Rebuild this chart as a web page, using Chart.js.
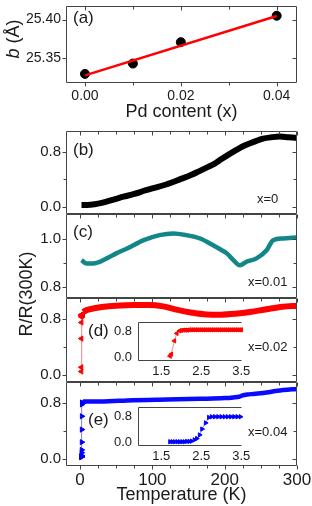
<!DOCTYPE html>
<html>
<head>
<meta charset="utf-8">
<script src="https://cdn.jsdelivr.net/npm/chart.js@4"></script>
<style>
body { margin: 0; background: #fff; }
#fig { position: relative; width: 312px; height: 506px; font-family: 'Liberation Sans', Arial, sans-serif; color: #1a1a1a; }
#fig canvas { position: absolute; left: 0; top: 0; }
.lbl { position: absolute; white-space: nowrap; line-height: 1; transform: translateY(-50%); }
.vlbl { position: absolute; white-space: nowrap; line-height: 1; font-size: 18px; transform: translate(-50%, -50%) rotate(-90deg); }
</style>
</head>
<body>
<div id="fig">
  <canvas id="pa" width="312" height="506"></canvas>
  <canvas id="pb" width="312" height="506"></canvas>
  <canvas id="pc" width="312" height="506"></canvas>
  <canvas id="pd" width="312" height="506"></canvas>
  <canvas id="pe" width="312" height="506"></canvas>
  <canvas id="pdi" width="312" height="506"></canvas>
  <canvas id="pei" width="312" height="506"></canvas>

  <div class="vlbl" style="left:13px; top:39px"><i>b</i> (Å)</div>
  <div class="vlbl" style="left:26px; top:294px">R/R(300K)</div>

  <div class="lbl" style="left:73px; top:17px; font-size:17px">(a)</div>
  <div class="lbl" style="left:73px; top:149px; font-size:17px">(b)</div>
  <div class="lbl" style="left:73px; top:231px; font-size:17px">(c)</div>
  <div class="lbl" style="left:88px; top:330px; font-size:17px">(d)</div>
  <div class="lbl" style="left:88px; top:419px; font-size:17px">(e)</div>

  <div class="lbl" style="left:257px; top:198px; font-size:13px">x=0</div>
  <div class="lbl" style="left:248px; top:281px; font-size:13px">x=0.01</div>
  <div class="lbl" style="left:248px; top:346px; font-size:13px">x=0.02</div>
  <div class="lbl" style="left:248px; top:431px; font-size:13px">x=0.04</div>
</div>

<script>
// (a) lattice parameter b against Pd content
const pdContent = [0, 0.01, 0.02, 0.04];
const latticeB = [25.329, 25.3425, 25.3705, 25.405];
const fitPd = [0, 0.04];
const fitB = [25.327, 25.4046];

// (b) x=0
const tempX0 = [2, 10, 20, 30, 40, 50, 60, 75, 90, 100, 120, 138, 155, 165, 175, 185, 195, 207, 220, 230, 242, 253, 265, 276, 288, 300];
const resX0 = [0.03, 0.03, 0.04, 0.06, 0.09, 0.12, 0.15, 0.19, 0.24, 0.27, 0.33, 0.40, 0.47, 0.52, 0.57, 0.62, 0.69, 0.77, 0.85, 0.90, 0.95, 0.99, 1.01, 1.02, 1.01, 1.0];

// (c) x=0.01
const tempX001 = [2, 9, 18, 37, 50, 65, 88, 110, 129, 147, 166, 184, 195, 203, 212, 221, 230, 244, 258, 267, 281, 300];
const resX001 = [0.912, 0.898, 0.898, 0.919, 0.94, 0.96, 0.995, 1.016, 1.023, 1.016, 1.002, 0.974, 0.955, 0.94, 0.912, 0.89, 0.905, 0.919, 0.953, 0.995, 1.002, 1.006];

// (d) x=0.02
const tempX002 = [4, 10, 18, 30, 50, 75, 95, 115, 135, 155, 175, 195, 215, 235, 258, 280, 300];
const resX002 = [0.90, 0.93, 0.95, 0.97, 0.99, 1.0, 1.0, 0.98, 0.93, 0.89, 0.865, 0.862, 0.875, 0.90, 0.94, 0.975, 0.99];
const lowTempX002 = [1.72, 1.75, 1.83, 1.89, 1.96, 2.00, 2.05, 2.10, 2.15, 2.20, 2.25, 2.30, 2.35, 2.40, 2.45, 2.50, 2.55, 2.60, 2.65, 2.70, 2.75, 2.80, 2.85, 2.90, 2.95, 3.00, 3.05, 3.10, 3.15, 3.20, 3.25, 3.30, 3.35, 3.40, 3.45, 3.50];
const lowResX002 = [0.05, 0.11, 0.52, 0.75, 0.83, 0.84, 0.85, 0.85, 0.85, 0.86, 0.86, 0.86, 0.86, 0.86, 0.86, 0.86, 0.86, 0.86, 0.86, 0.86, 0.86, 0.86, 0.86, 0.86, 0.86, 0.86, 0.86, 0.86, 0.86, 0.86, 0.86, 0.86, 0.86, 0.86, 0.86, 0.86];

// (e) x=0.04
const tempX004 = [4, 28, 73, 120, 166, 200, 212, 220, 225, 231, 240, 258, 270, 281, 300];
const resX004 = [0.82, 0.82, 0.84, 0.85, 0.86, 0.87, 0.88, 0.89, 0.91, 0.92, 0.93, 0.95, 0.97, 0.985, 1.0];
const lowTempX004 = [1.72, 1.78, 1.84, 1.90, 1.96, 2.02, 2.08, 2.14, 2.20, 2.26, 2.33, 2.39, 2.46, 2.52, 2.61, 2.69, 2.76, 2.84, 2.92, 3.00, 3.08, 3.16, 3.24, 3.32, 3.40, 3.48];
const lowResX004 = [0.03, 0.03, 0.03, 0.03, 0.03, 0.03, 0.03, 0.04, 0.04, 0.05, 0.09, 0.13, 0.24, 0.42, 0.61, 0.78, 0.80, 0.80, 0.80, 0.80, 0.80, 0.80, 0.80, 0.80, 0.80, 0.80];

// tick positions and labelled ticks
const pdTicks = [0, 0.02, 0.04];
const bTickValues = [25.35, 25.40];
const tempTicks = [0, 100, 200, 300];
const resTickValues = [0, 0.4, 0.8];
const resTicks = [0, 0.8];
const resTickValuesC = [0.8, 0.9, 1.0];
const resTicksC = [0.8, 1.0];
const lowTempTicks = [1.5, 2.5, 3.5];

Chart.defaults.font.family = "'Liberation Sans', Arial, sans-serif";
Chart.defaults.color = '#1a1a1a';

const pts = (xs, ys) => xs.map((x, i) => ({x: x, y: ys[i]}));
const has = (list, v) => list.some(l => Math.abs(l - v) < 1e-6);

// box round the plot area, plus small tick marks
const frameTicks = {
    id: 'frameTicks',
    afterDatasetsDraw(chart, args, o) {
        const {ctx, chartArea: a, scales} = chart;
        const px = v => Math.round(v) + 0.5;
        const L = px(a.left), R = px(a.right - 1), T = px(a.top), B = px(a.bottom - 1);
        ctx.save();
        ctx.strokeStyle = '#444';
        ctx.lineWidth = 1;
        ctx.beginPath();
        if (o.box.includes('t')) { ctx.moveTo(L, T); ctx.lineTo(R, T); }
        if (o.box.includes('b')) { ctx.moveTo(L, B); ctx.lineTo(R, B); }
        if (o.box.includes('l')) { ctx.moveTo(L, T); ctx.lineTo(L, B); }
        if (o.box.includes('r')) { ctx.moveTo(R, T); ctx.lineTo(R, B); }
        const len = t => (t.label ? 4 : 3);
        if (o.ticks) {
            scales.x.ticks.forEach(t => {
                const p = px(scales.x.getPixelForValue(t.value));
                if (o.top) { ctx.moveTo(p, T); ctx.lineTo(p, T + len(t)); }
                if (o.bottom) { ctx.moveTo(p, B); ctx.lineTo(p, B + len(t)); }
            });
            scales.y.ticks.forEach(t => {
                const p = px(scales.y.getPixelForValue(t.value));
                ctx.moveTo(L, p); ctx.lineTo(L - len(t), p);
                ctx.moveTo(R, p); ctx.lineTo(R - len(t), p);
            });
        }
        ctx.stroke();
        ctx.restore();
    }
};

function xScale(min, max, step, labels, fmt, size, pad, h, title) {
    return {
        type: 'linear', position: 'bottom', min: min, max: max,
        ticks: {
            display: h > 0, stepSize: step, includeBounds: false, autoSkip: false,
            maxRotation: 0, padding: pad, font: {size: size},
            callback: v => has(labels, v) ? fmt(v) : ''
        },
        grid: {display: false, drawTicks: false}, border: {display: false},
        title: title ? {display: true, text: title, font: {size: 18}, padding: 0} : {display: false},
        afterFit: s => { s.height = h; s.paddingLeft = 0; s.paddingRight = 0; }
    };
}

function yScale(min, max, values, labels, fmt, size, pad, w) {
    return {
        type: 'linear', position: 'left', min: min, max: max,
        afterBuildTicks: s => { s.ticks = values.map(v => ({value: v})); },
        ticks: {
            autoSkip: false, padding: pad, font: {size: size},
            callback: v => has(labels, v) ? fmt(v) : ''
        },
        grid: {display: false, drawTicks: false}, border: {display: false},
        afterFit: s => { s.width = w; s.paddingTop = 0; s.paddingBottom = 0; }
    };
}

// area = [left, top, right, bottom] of the plot box in page pixels
function panel(id, area, yw, xh, datasets, x, y, frame) {
    new Chart(document.getElementById(id), {
        type: 'scatter',
        data: {datasets: datasets},
        options: {
            responsive: false, animation: false, events: [],
            layout: {padding: {left: area[0] - yw, top: area[1], right: 312 - area[2], bottom: 506 - area[3] - xh}},
            scales: {x: x, y: y},
            plugins: {legend: {display: false}, tooltip: {enabled: false}, frameTicks: frame}
        },
        plugins: [frameTicks]
    });
}

const f1 = v => v.toFixed(1);
const f2 = v => v.toFixed(2);
const f0 = v => String(Math.round(v));
const mainFrame = {box: 'tblr', ticks: true, top: true, bottom: false};

// (a)
panel('pa', [66, 2, 297, 83], 50, 40, [
    {data: pts(fitPd, fitB), showLine: true, borderColor: '#ff0000', borderWidth: 2.5, pointRadius: 0},
    {data: pts(pdContent, latticeB), showLine: false, pointRadius: 4.5, backgroundColor: '#000', borderColor: '#000'}
], xScale(-0.00396, 0.04424, 0.01, pdTicks, f2, 14, 5, 40, 'Pd content (x)'),
   yScale(25.3171, 25.4184, bTickValues, bTickValues, f2, 14, 5, 50),
   {box: 'tblr', ticks: true, top: true, bottom: true});

// (b)
panel('pb', [66, 131, 297, 214], 50, 0, [
    {data: pts(tempX0, resX0), showLine: true, borderColor: '#000', borderWidth: 6, pointRadius: 0, cubicInterpolationMode: 'monotone'}
], xScale(-19.4, 300, 25, tempTicks, f0, 17, 4, 0),
   yScale(-0.1, 1.1, resTickValues, resTicks, f1, 15, 5, 50), mainFrame);

// (c)
panel('pc', [66, 214, 297, 298], 50, 0, [
    {data: pts(tempX001, resX001), showLine: true, borderColor: '#138787', borderWidth: 4.5, pointRadius: 0, cubicInterpolationMode: 'monotone'}
], xScale(-19.4, 300, 25, tempTicks, f0, 17, 4, 0),
   yScale(0.754, 1.104, resTickValuesC, resTicksC, f1, 15, 5, 50), mainFrame);

// (d)
panel('pd', [66, 298, 297, 382], 50, 0, [
    {data: pts(lowTempX002, lowResX002), showLine: true, borderColor: 'rgba(255,0,0,0.5)', borderWidth: 1,
     pointStyle: 'triangle', rotation: -90, pointRadius: 3, pointBackgroundColor: '#ff0000', pointBorderColor: '#ff0000'},
    {data: pts(tempX002, resX002), showLine: true, borderColor: '#ff0000', borderWidth: 6, pointRadius: 0, cubicInterpolationMode: 'monotone'}
], xScale(-19.4, 300, 25, tempTicks, f0, 17, 4, 0),
   yScale(-0.1, 1.1, resTickValues, resTicks, f1, 15, 5, 50), mainFrame);

// (e)
panel('pe', [66, 382, 297, 466], 50, 40, [
    {data: pts(lowTempX004, lowResX004), showLine: true, borderColor: 'rgba(0,0,255,0.5)', borderWidth: 1,
     pointStyle: 'triangle', rotation: 90, pointRadius: 3, pointBackgroundColor: '#0000ff', pointBorderColor: '#0000ff'},
    {data: pts(tempX004, resX004), showLine: true, borderColor: '#0a0aff', borderWidth: 4.5, pointRadius: 0, cubicInterpolationMode: 'monotone'}
], xScale(-19.4, 300, 25, tempTicks, f0, 17, 4, 40, 'Temperature (K)'),
   yScale(-0.1, 1.1, resTickValues, resTicks, f1, 15, 5, 50), {box: 'tblr', ticks: true, top: true, bottom: true});

// insets
panel('pdi', [138, 322, 242, 361], 30, 20, [
    {data: pts(lowTempX002, lowResX002), showLine: true, borderColor: 'rgba(255,0,0,0.45)', borderWidth: 1, clip: 5,
     pointStyle: 'triangle', rotation: -90, pointRadius: 2.5, pointBackgroundColor: '#ff0000', pointBorderColor: '#ff0000'}
], xScale(0.92, 3.52, 0.5, lowTempTicks, f1, 13, 3, 20),
   yScale(-0.1, 1.1, [0, 0.8], resTicks, f1, 13, 6, 30), {box: 'tlb', ticks: false});

panel('pei', [138, 407, 242, 446], 30, 20, [
    {data: pts(lowTempX004, lowResX004), showLine: true, borderColor: 'rgba(0,0,255,0.45)', borderWidth: 1, clip: 5,
     pointStyle: 'triangle', rotation: 90, pointRadius: 2.5, pointBackgroundColor: '#0000ff', pointBorderColor: '#0000ff'}
], xScale(0.92, 3.52, 0.5, lowTempTicks, f1, 13, 3, 20),
   yScale(-0.1, 1.1, [0, 0.8], resTicks, f1, 13, 6, 30), {box: 'tlb', ticks: false});
</script>
</body>
</html>
